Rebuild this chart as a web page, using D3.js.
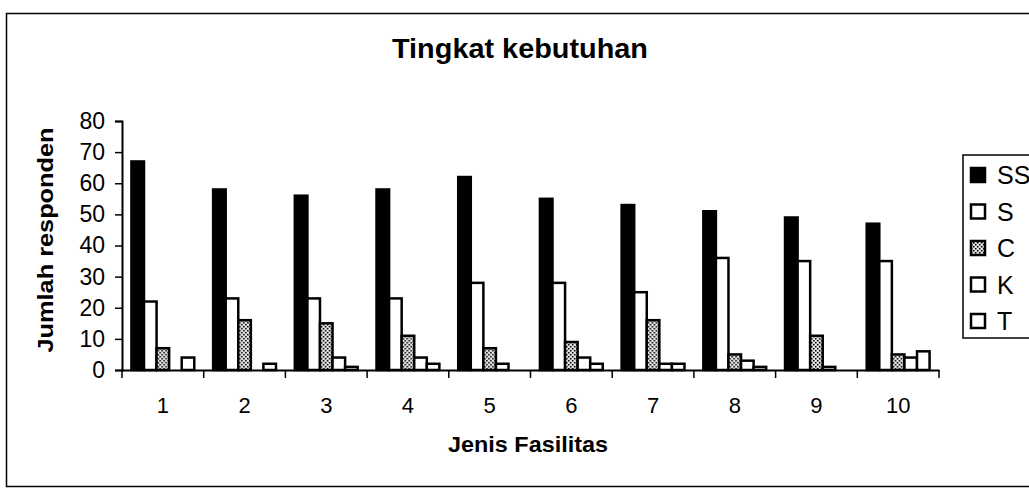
<!DOCTYPE html>
<html>
<head>
<meta charset="utf-8">
<script src="https://cdn.jsdelivr.net/npm/d3@7/dist/d3.min.js"></script>
<style>
  html, body { margin: 0; padding: 0; background: #fff; }
  svg { display: block; }
  text { font-family: "Liberation Sans", Arial, sans-serif; fill: #000; }
</style>
</head>
<body>
<svg id="chart" width="1029" height="493"></svg>
<script>
// ---- data ----
const categories = ["1", "2", "3", "4", "5", "6", "7", "8", "9", "10"];
const seriesNames = ["SS", "S", "C", "K", "T"];
const valuesSS = [67, 58, 56, 58, 62, 55, 53, 51, 49, 47];
const valuesS  = [22, 23, 23, 23, 28, 28, 25, 36, 35, 35];
const valuesC  = [7, 16, 15, 11, 7, 9, 16, 5, 11, 5];
const valuesK  = [null, null, 4, 4, 2, 4, 2, 3, 1, 4];
const valuesT  = [4, 2, 1, 2, null, 2, 2, 1, null, 6];
const yTicks = [0, 10, 20, 30, 40, 50, 60, 70, 80];
const titleText = "Tingkat kebutuhan";
const xTitle = "Jenis Fasilitas";
const yTitle = "Jumlah responden";

const seriesValues = { SS: valuesSS, S: valuesS, C: valuesC, K: valuesK, T: valuesT };

const svg = d3.select("#chart");
const FONT = '"Liberation Sans", Arial, sans-serif';

// pattern for C series
const defs = svg.append("defs");
const pat = defs.append("pattern")
  .attr("id", "dots").attr("patternUnits", "userSpaceOnUse")
  .attr("width", 4).attr("height", 4);
pat.append("rect").attr("width", 4).attr("height", 4).attr("fill", "#d8d8d8");
pat.append("rect").attr("x", 0).attr("y", 0).attr("width", 1.5).attr("height", 1.5).attr("fill", "#000");
pat.append("rect").attr("x", 2).attr("y", 2).attr("width", 1.5).attr("height", 1.5).attr("fill", "#000");
pat.append("rect").attr("x", 2).attr("y", 0).attr("width", 1).attr("height", 1).attr("fill", "#fff");
pat.append("rect").attr("x", 0).attr("y", 2).attr("width", 1).attr("height", 1).attr("fill", "#fff");

const fills = { SS: "#000", S: "#fff", C: "url(#dots)", K: "#fff", T: "#fff" };

// chart border
svg.append("rect")
  .attr("x", 6.5).attr("y", 13.5).attr("width", 1040).attr("height", 473)
  .attr("fill", "none").attr("stroke", "#000").attr("stroke-width", 1.5);

// scales
const plotLeft = 122, plotRight = 939, plotTop = 121, plotBottom = 370;
const gapRatio = 1.5 / 6.5;
const x0 = d3.scaleBand().domain(categories).range([plotLeft, plotRight])
  .paddingInner(gapRatio).paddingOuter(gapRatio / 2);
const x1 = d3.scaleBand().domain(seriesNames).range([0, x0.bandwidth()]).padding(0);
const y = d3.scaleLinear().domain([0, 80]).range([plotBottom, plotTop]);

// bars
const groups = svg.append("g").selectAll("g")
  .data(categories).join("g")
  .attr("transform", d => `translate(${x0(d)},0)`);

groups.selectAll("rect")
  .data((c, i) => seriesNames.map(s => ({ s, v: seriesValues[s][i] })).filter(d => d.v !== null))
  .join("rect")
  .attr("x", d => x1(d.s))
  .attr("y", d => y(d.v))
  .attr("width", x1.bandwidth())
  .attr("height", d => y(0) - y(d.v))
  .attr("fill", d => fills[d.s])
  .attr("stroke", "#000")
  .attr("stroke-width", 2.5);

// y axis
const yAxis = d3.axisLeft(y).tickValues(yTicks).tickSize(7).tickPadding(10);
const gy = svg.append("g").attr("transform", `translate(${plotLeft},0)`).call(yAxis);
gy.select(".domain").attr("stroke", "#000").attr("stroke-width", 2);
gy.selectAll(".tick line").attr("stroke", "#000").attr("stroke-width", 1.5);
gy.selectAll(".tick text").style("font-size", "23px").style("font-family", FONT);

// x axis
const xAxis = d3.axisBottom(x0).tickSize(0).tickPadding(27);
const gx = svg.append("g").attr("transform", `translate(0,${plotBottom})`).call(xAxis);
gx.select(".domain").attr("stroke", "#000").attr("stroke-width", 2);
gx.selectAll(".tick text").style("font-size", "22px").style("font-family", FONT);
const boundaries = categories.map(c => x0(c) - (x0.step() - x0.bandwidth()) / 2).concat([plotRight]);
gx.selectAll(".bnd").data(boundaries).join("line")
  .attr("class", "bnd")
  .attr("x1", d => d).attr("x2", d => d)
  .attr("y1", 0).attr("y2", 8)
  .attr("stroke", "#000").attr("stroke-width", 1.5);

// titles
svg.append("text").attr("x", 520).attr("y", 58)
  .attr("text-anchor", "middle").style("font-size", "27px").style("font-weight", "bold")
  .attr("textLength", 256).attr("lengthAdjust", "spacingAndGlyphs")
  .text(titleText);

svg.append("text").attr("x", 528).attr("y", 452)
  .attr("text-anchor", "middle").style("font-size", "22px").style("font-weight", "bold")
  .attr("textLength", 160).attr("lengthAdjust", "spacingAndGlyphs")
  .text(xTitle);

svg.append("text")
  .attr("transform", "translate(53,240) rotate(-90)")
  .attr("text-anchor", "middle").style("font-size", "22px").style("font-weight", "bold")
  .attr("textLength", 225).attr("lengthAdjust", "spacingAndGlyphs")
  .text(yTitle);

// legend
const legend = svg.append("g");
legend.append("rect").attr("x", 963).attr("y", 155).attr("width", 90).attr("height", 183)
  .attr("fill", "#fff").attr("stroke", "#000").attr("stroke-width", 1.5);
const items = legend.selectAll("g.item").data(seriesNames).join("g")
  .attr("class", "item")
  .attr("transform", (d, i) => `translate(971,${175 + i * 36.5})`);
items.append("rect").attr("x", 0).attr("y", -7).attr("width", 14).attr("height", 14)
  .attr("fill", d => fills[d]).attr("stroke", "#000").attr("stroke-width", 2.5);
items.append("text").attr("x", 26).attr("y", 9)
  .style("font-size", "25px").text(d => d);
</script>
</body>
</html>
